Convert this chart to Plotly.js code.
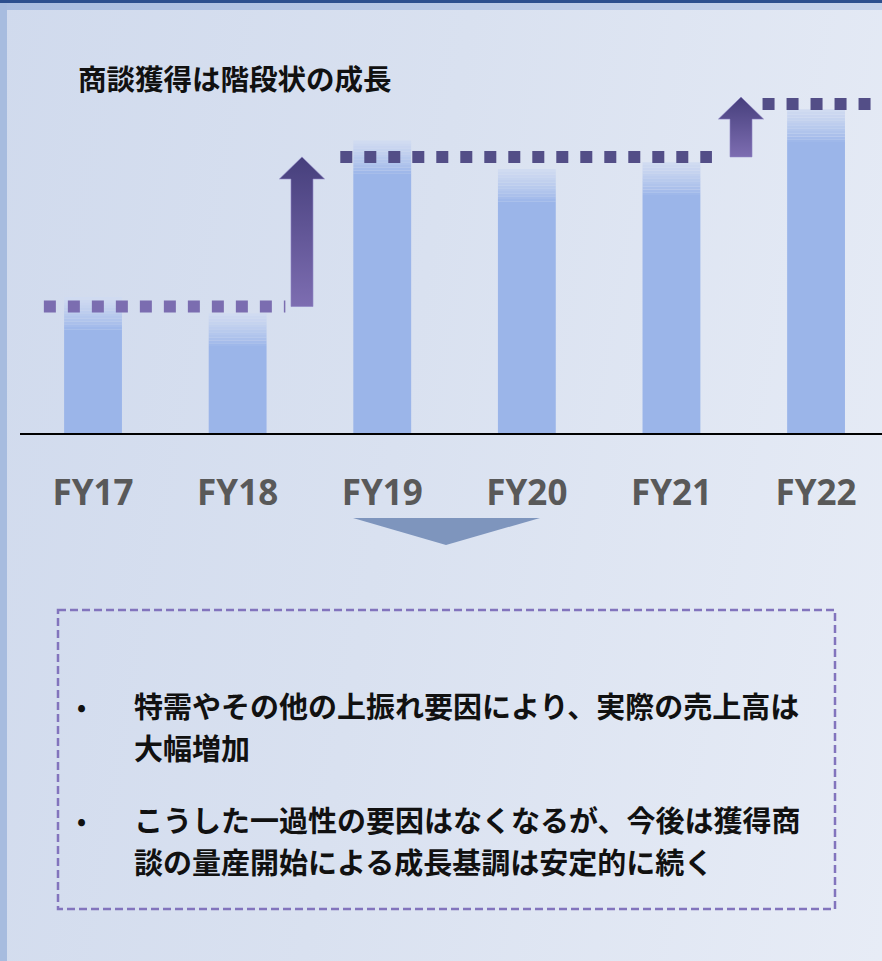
<!DOCTYPE html>
<html>
<head>
<meta charset="utf-8">
<script src="https://cdn.plot.ly/plotly-3.0.1.min.js"></script>
<style>
  html, body { margin: 0; padding: 0; }
  body { width: 882px; height: 961px; overflow: hidden; position: relative;
         background: linear-gradient(100deg, #d0daed 0%, #d9e1f0 45%, #e7ecf6 100%); }
  #topband { position: absolute; left: 0; top: 0; width: 882px; height: 3px; background: #2c4f8e; }
  #topstrip { position: absolute; left: 0; top: 3px; width: 882px; height: 7px;
              background: linear-gradient(90deg, #a9bde0, #c6d3eb); }
  #leftstrip { position: absolute; left: 0; top: 3px; width: 7px; height: 958px; background: #a7bcdf; }
  #chart { position: absolute; left: 0; top: 0; width: 882px; height: 961px; }
</style>
</head>
<body>
<div id="topband"></div>
<div id="topstrip"></div>
<div id="leftstrip"></div>
<div id="chart"></div>
<script>
// ---- data (index, FY17 = 100) ----
const categories = ["FY17", "FY18", "FY19", "FY20", "FY21", "FY22"];
const orders = [100, 88, 215, 194, 199, 238];
// step levels (dotted lines) and which years they span
const levelValues = [93, 203, 242];
const levelFirst = [0, 2, 5];
const levelLast = [1, 4, 5];
// step-up arrows: from level to level
const arrowFrom = [93, 203];
const arrowTo = [203, 247];
const titleText = "商談獲得は階段状の成長";
const bullet1 = ["特需やその他の上振れ要因により、実際の売上高は", "大幅増加"];
const bullet2 = ["こうした一過性の要因はなくなるが、今後は獲得商", "談の量産開始による成長基調は安定的に続く"];

// ---- styling / geometry helpers ----
const W = 882, H = 961, L = 20, BASE = 433;
const xs = categories.map((c, i) => i);
const barW = 0.40;
const fade = 24;            // height (in data units) of the top fade on bars
const nFade = 12;
const segPad = [[-0.34, 0.33], [-0.29, 0.28], [-0.37, 0.39]];
const levelColors = ["#7b6db0", "#534e87", "#534e87"];
const arrowX = [1.445, 4.481];
const px2x = p => (p - L) / (W - L);
const px2y = p => (BASE - p) / BASE;

function mix(a, b, t) {
  const pa = [1,3,5].map(i => parseInt(a.substr(i,2),16));
  const pb = [1,3,5].map(i => parseInt(b.substr(i,2),16));
  return "rgb(" + pa.map((v,i) => Math.round(v + (pb[i]-v)*t)).join(",") + ")";
}

const traces = [];
// solid body of bars
traces.push({
  type: "bar", x: xs, y: orders.map(v => v - fade), base: 0, width: barW,
  marker: { color: "#9bb5e9", line: { width: 0 } }, hoverinfo: "skip", showlegend: false
});
// fading top of bars
for (let k = 0; k < nFade; k++) {
  traces.push({
    type: "bar", x: xs, y: orders.map(() => fade / nFade + 0.05),
    base: orders.map(v => v - fade + k * fade / nFade), width: barW,
    marker: { color: mix("#9bb5e9", "#d2dcf1", Math.pow((k + 0.5) / nFade, 0.8)), line: { width: 0 } },
    hoverinfo: "skip", showlegend: false
  });
}
// dotted step levels
levelValues.forEach((lv, i) => {
  traces.push({
    type: "scatter", mode: "lines",
    x: [levelFirst[i] + segPad[i][0], levelLast[i] + segPad[i][1]],
    y: [lv, lv],
    line: { color: levelColors[i], width: 12, dash: "dot" },
    hoverinfo: "skip", showlegend: false
  });
});
// block arrows
const shaftHalf = 0.076, headHalf = 0.156, headH = 16.2;
arrowFrom.forEach((a, i) => {
  const cx = arrowX[i], top = arrowTo[i];
  traces.push({
    type: "scatter", mode: "lines", fill: "toself",
    x: [cx - shaftHalf, cx - shaftHalf, cx - headHalf, cx, cx + headHalf, cx + shaftHalf, cx + shaftHalf, cx - shaftHalf],
    y: [a, top - headH, top - headH, top, top - headH, top - headH, a, a],
    line: { width: 1, color: "rgba(140,130,195,0.6)" },
    fillgradient: { type: "vertical", colorscale: [[0, "#7d6db1"], [1, "#463f7c"]] },
    hoverinfo: "skip", showlegend: false
  });
});

const jp = "Noto Sans CJK JP, sans-serif";
const annotations = [];
function addLine(text, py) {
  annotations.push({ xref: "paper", yref: "paper", x: px2x(133), y: px2y(py),
    xanchor: "left", yanchor: "middle", showarrow: false, text: text, borderpad: 0,
    font: { family: jp, size: 29, weight: 700, color: "#111111" } });
}
function addBullet(py) {
  annotations.push({ xref: "paper", yref: "paper", x: px2x(81), y: px2y(py),
    xanchor: "center", yanchor: "middle", showarrow: false, text: "•", borderpad: 0,
    font: { family: jp, size: 24, weight: 700, color: "#111111" } });
}
addBullet(705); addLine(bullet1[0], 705); addLine(bullet1[1], 747);
addBullet(819); addLine(bullet2[0], 819); addLine(bullet2[1], 861);

const shapes = [
  { type: "rect", xref: "paper", yref: "paper",
    x0: px2x(58), x1: px2x(835), y0: px2y(610), y1: px2y(909),
    line: { color: "#8274bd", width: 2.5, dash: "8px,4px" }, fillcolor: "rgba(0,0,0,0)" },
  { type: "path", xref: "paper", yref: "paper",
    path: "M" + px2x(353) + "," + px2y(518) + " L" + px2x(540) + "," + px2y(518) +
          " L" + px2x(446) + "," + px2y(545) + " Z",
    fillcolor: "#7e95bd", line: { width: 0 } }
];

const layout = {
  width: W, height: H,
  margin: { l: L, r: 0, t: 0, b: H - BASE, pad: 0 },
  paper_bgcolor: "rgba(0,0,0,0)", plot_bgcolor: "rgba(0,0,0,0)",
  barmode: "overlay", showlegend: false,
  title: { text: titleText, x: 78 / W, xanchor: "left", xref: "container",
           y: 1 - 80 / H, yanchor: "middle", yref: "container",
           font: { family: jp, size: 28.5, weight: 700, color: "#111111" } },
  xaxis: { range: [-0.505, 5.456], tickvals: xs, ticktext: categories,
           showgrid: false, zeroline: false, showline: true, linecolor: "#000000", linewidth: 2,
           ticks: "", ticklabelstandoff: 28,
           tickfont: { family: "Open Sans, sans-serif", size: 35, weight: 700, color: "#595959" },
           fixedrange: true },
  yaxis: { range: [0, BASE / 1.36], visible: false, showgrid: false, zeroline: false, fixedrange: true },
  annotations: annotations, shapes: shapes
};

Plotly.newPlot("chart", traces, layout, { staticPlot: true, displayModeBar: false });
</script>
</body>
</html>
